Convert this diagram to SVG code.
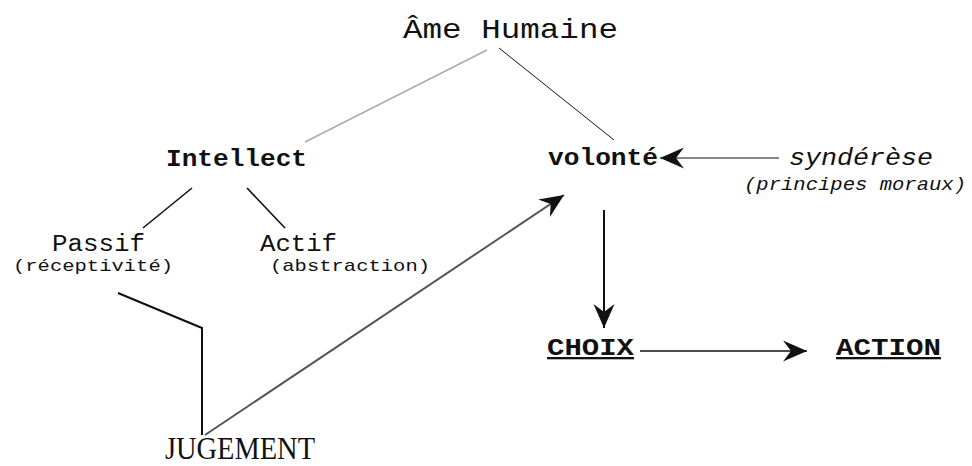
<svg xmlns="http://www.w3.org/2000/svg" width="972" height="466" viewBox="0 0 972 466">
<style>
text{font-family:"Liberation Mono","Courier New",monospace;fill:#111;}
.b{font-weight:bold;}
.i{font-style:italic;}
.ln{fill:none;stroke:#111;}
</style>
<defs>
<marker id="ah" markerUnits="userSpaceOnUse" markerWidth="28" markerHeight="26" viewBox="-26 -13 28 26" refX="0" refY="0" orient="auto">
<path d="M0 0 L-24 -10.5 L-16 0 L-24 10.5 Z" fill="#111"/>
</marker>
</defs>
<rect width="972" height="466" fill="#fff"/>
<g id="connectors">
<line x1="487" y1="50" x2="305" y2="142" stroke="#aaa" stroke-width="1.5"/>
<line class="ln" x1="499" y1="48" x2="614" y2="140" stroke-width="1"/>
<line class="ln" x1="192" y1="188" x2="143" y2="228" stroke-width="1.6"/>
<line class="ln" x1="247" y1="188" x2="285" y2="228" stroke-width="1.6"/>
<polyline class="ln" points="118,293 202,328 202,435" stroke-width="2"/>
<line x1="205" y1="435" x2="564" y2="195" stroke="#555" stroke-width="2" marker-end="url(#ah)"/>
<line class="ln" x1="779" y1="158" x2="660" y2="158" stroke-width="1.2" marker-end="url(#ah)"/>
<line class="ln" x1="604" y1="210" x2="604" y2="328" stroke-width="2" marker-end="url(#ah)"/>
<line class="ln" x1="640" y1="351" x2="807" y2="351" stroke-width="1.5" marker-end="url(#ah)"/>
</g>
<g id="ame"><text x="403" y="38" font-size="28" textLength="215" lengthAdjust="spacingAndGlyphs">Âme Humaine</text></g>
<g id="intellect"><text class="b" x="166" y="166" font-size="24" textLength="141" lengthAdjust="spacingAndGlyphs">Intellect</text></g>
<g id="volonte"><text class="b" x="548" y="165" font-size="24" textLength="110" lengthAdjust="spacingAndGlyphs">volonté</text></g>
<g id="synderese">
<text class="i" x="789" y="165" font-size="24" textLength="144" lengthAdjust="spacingAndGlyphs">syndérèse</text>
<text class="i" x="744" y="190" font-size="18" textLength="222" lengthAdjust="spacingAndGlyphs">(principes moraux)</text>
</g>
<g id="passif">
<text x="52" y="251" font-size="23" textLength="93" lengthAdjust="spacingAndGlyphs">Passif</text>
<text x="13" y="271" font-size="17" textLength="160" lengthAdjust="spacingAndGlyphs">(réceptivité)</text>
</g>
<g id="actif">
<text x="260" y="251" font-size="23" textLength="77" lengthAdjust="spacingAndGlyphs">Actif</text>
<text x="270" y="271" font-size="17" textLength="160" lengthAdjust="spacingAndGlyphs">(abstraction)</text>
</g>
<g id="jugement"><text x="165" y="459" font-size="31" textLength="150" lengthAdjust="spacingAndGlyphs" style="font-family:'Liberation Serif','Times New Roman',serif">JUGEMENT</text></g>
<g id="choix"><text class="b" x="547" y="355" font-size="23" textLength="87" lengthAdjust="spacingAndGlyphs" text-decoration="underline">CHOIX</text></g>
<g id="action"><text class="b" x="836" y="355" font-size="23" textLength="105" lengthAdjust="spacingAndGlyphs" text-decoration="underline">ACTION</text></g>
</svg>
